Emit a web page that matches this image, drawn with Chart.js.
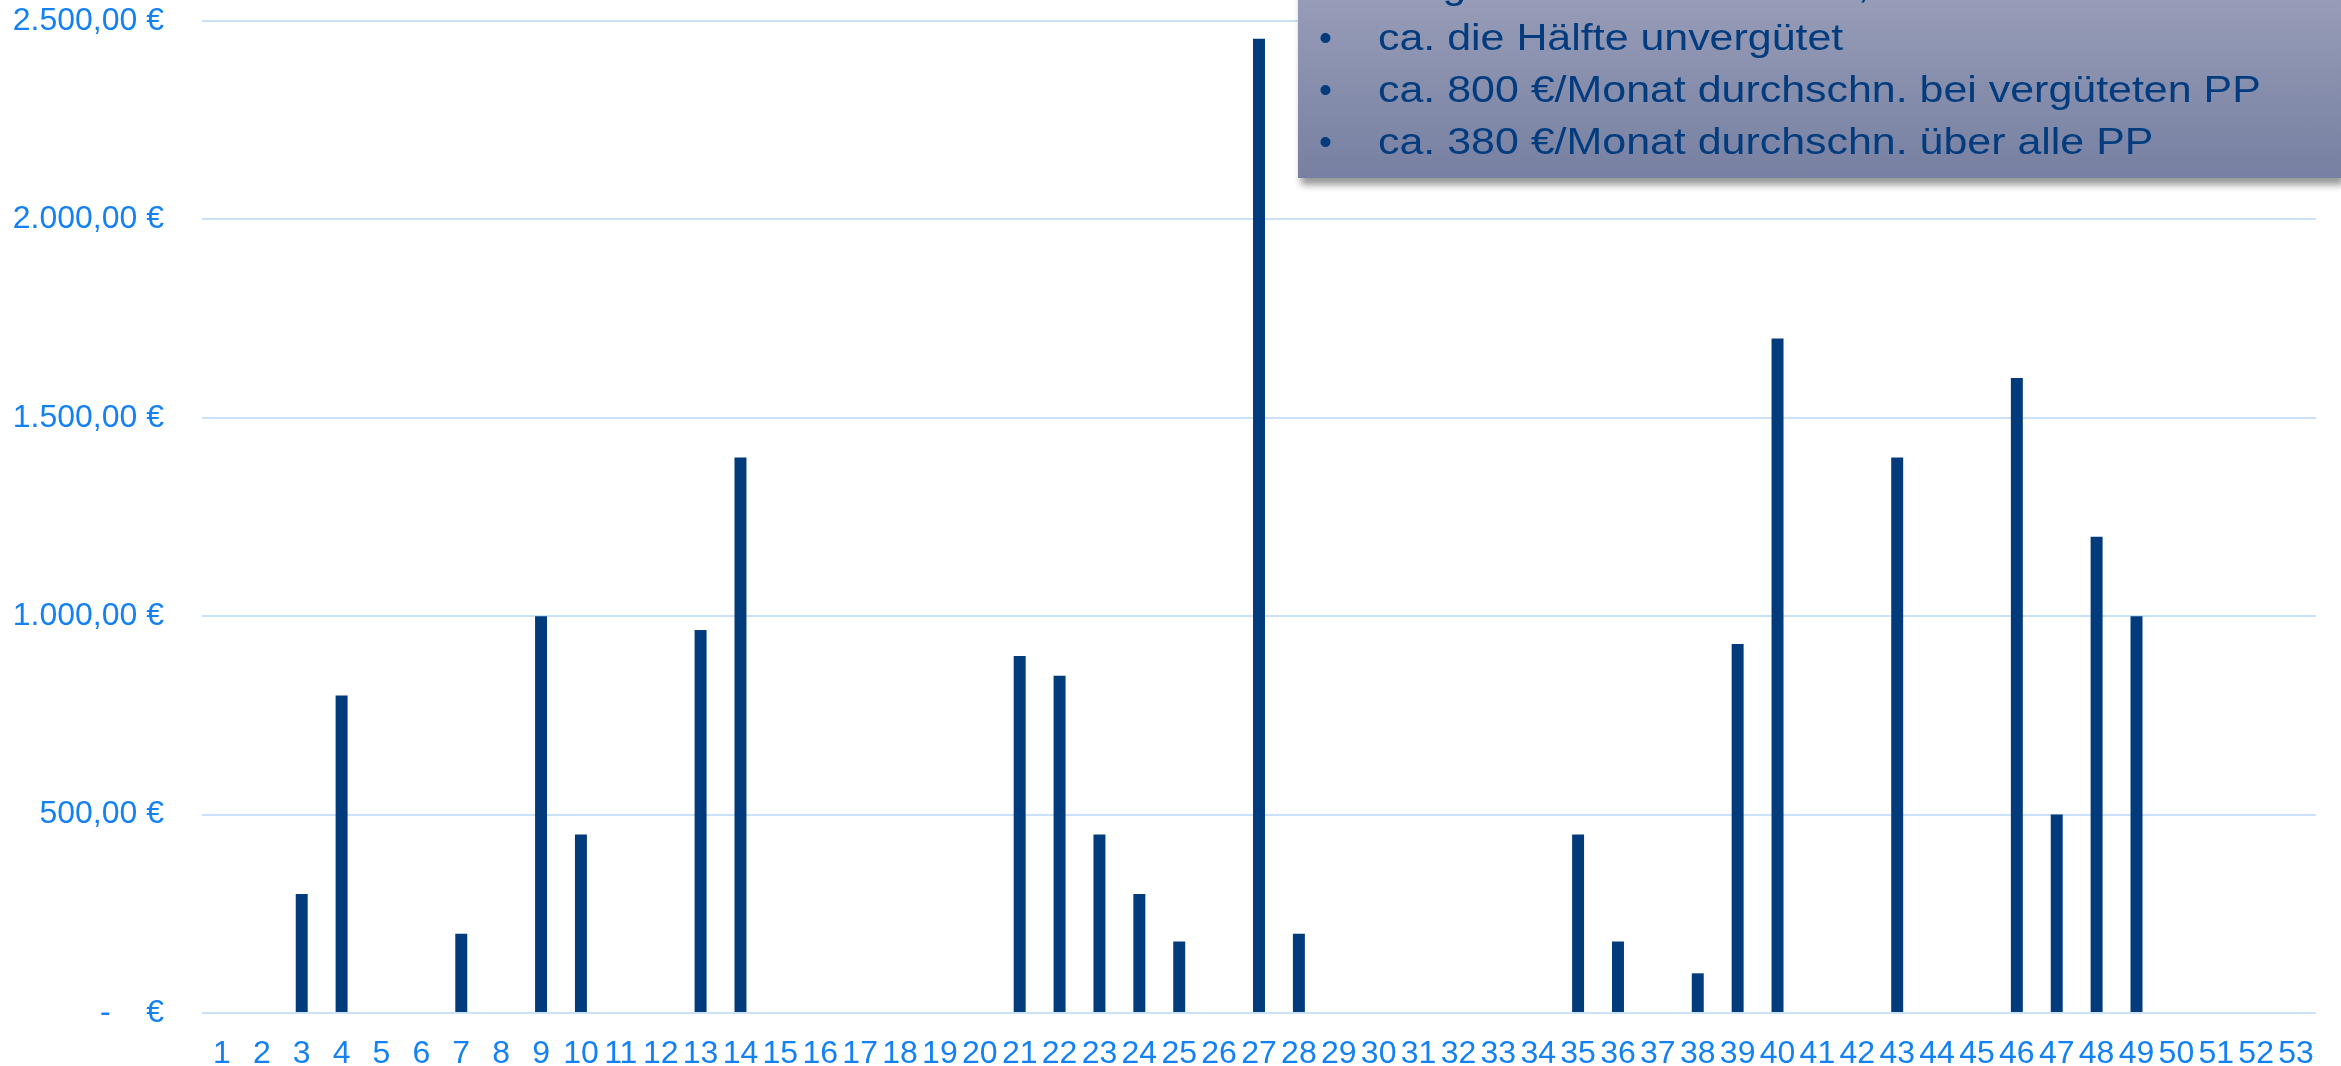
<!DOCTYPE html>
<html>
<head>
<meta charset="utf-8">
<script src="https://cdn.jsdelivr.net/npm/chart.js@4"></script>
<style>
  html, body { margin: 0; padding: 0; background: #fff; overflow: hidden; }
  #wrap { position: relative; width: 2341px; height: 1066px; }
  #note {
    position: absolute; left: 1298px; top: -66px; right: 0; height: 208px;
    padding: 26px 0 10px 0;
    background: linear-gradient(to bottom, #a3a8c0 0%, #9197b3 40%, #7780a2 100%);
    box-shadow: 3px 7px 7px rgba(0,0,0,0.4);
    font-family: "Liberation Sans", Arial, sans-serif; font-size: 37px; color: #023c7e;
  }
  #note div { height: 52px; line-height: 52px; white-space: nowrap; position: relative; padding-left: 80px; }
  #note div span.b { position: absolute; left: 21px; }
  #note div span.t { display: inline-block; transform: scaleX(1.16); transform-origin: left center; }
</style>
</head>
<body>
<div id="wrap">
  <canvas id="paidChart" width="2341" height="1066"></canvas>
  <div id="note">
    <div><span class="b">•</span><span class="t">Diagramm zu SoSe 2022, ähnlich im SoSe 2023</span></div>
    <div><span class="b">•</span><span class="t">ca. die Hälfte unvergütet</span></div>
    <div><span class="b">•</span><span class="t">ca. 800 €/Monat durchschn. bei vergüteten PP</span></div>
    <div><span class="b">•</span><span class="t">ca. 380 €/Monat durchschn. über alle PP</span></div>
  </div>
</div>
<script>
// Teilnehmer 1..53
const categories = [];
for (let i = 1; i <= 53; i++) categories.push(String(i));

// Vergütung pro Monat (€)
const payments = [
  0, 0, 300, 800, 0, 0, 200, 0, 1000, 450,
  0, 0, 965, 1400, 0, 0, 0, 0, 0, 0,
  900, 850, 450, 300, 180, 0, 2455, 200, 0, 0,
  0, 0, 0, 0, 450, 180, 0, 100, 930, 1700,
  0, 0, 1400, 0, 0, 1600, 500, 1200, 1000, 0,
  0, 0, 0
];

const yTicks = [0, 500, 1000, 1500, 2000, 2500];

const fontFamily = '"Liberation Sans", Arial, sans-serif';
const labelColor = '#1380f4';
const gridColor = '#c9e1f9';

function euro(v) {
  if (v === 0) return '-    €';
  return v.toLocaleString('de-DE', { minimumFractionDigits: 2, maximumFractionDigits: 2 }) + ' €';
}

const ctx = document.getElementById('paidChart').getContext('2d');
const paidChart = new Chart(ctx, {
  type: 'bar',
  data: {
    labels: categories,
    datasets: [{
      data: payments,
      backgroundColor: '#023b7b',
      barPercentage: 0.6,
      categoryPercentage: 0.5
    }]
  },
  options: {
    responsive: false,
    animation: false,
    layout: { padding: { top: 21, right: 25, left: 0, bottom: 0 } },
    plugins: { legend: { display: false }, tooltip: { enabled: false } },
    scales: {
      x: {
        grid: { display: false },
        border: { display: false },
        ticks: {
          color: labelColor, autoSkip: false, maxRotation: 0, padding: 14,
          font: { family: fontFamily, size: 32 }
        },
        afterFit: s => { s.height = 53; }
      },
      y: {
        min: 0, max: 2500,
        afterBuildTicks: s => { s.ticks = yTicks.map(v => ({ value: v })); },
        grid: { color: gridColor, lineWidth: 2, drawTicks: false },
        border: { display: false },
        ticks: {
          color: labelColor, padding: 38,
          font: { family: fontFamily, size: 32 },
          callback: v => euro(v)
        },
        afterFit: s => { s.width = 202; s.paddingTop = 0; s.paddingBottom = 0; }
      }
    }
  }
});
</script>
</body>
</html>
